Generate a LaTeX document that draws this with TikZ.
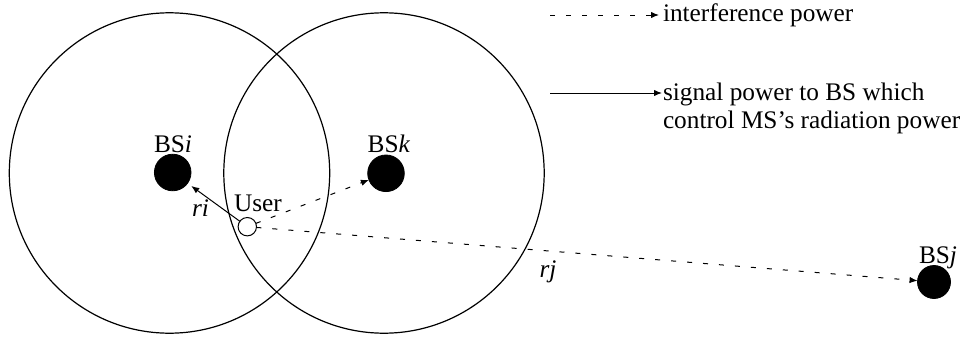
\documentclass[tikz,border=0pt]{standalone}
\usepackage{fontspec}
\setmainfont{Liberation Serif}
\usetikzlibrary{arrows.meta}
\begin{document}
\begin{tikzpicture}[x=0.5pt,y=-0.5pt,
  every node/.style={inner sep=0pt, outer sep=0pt, font=\fontsize{12.65}{15}\selectfont},
  cell/.style={draw, circle, line width=0.6pt, minimum size=160.2pt},
  bsdot/.style={draw, fill=black, circle, minimum size=18.3pt},
  userdot/.style={draw, fill=white, circle, line width=0.5pt, minimum size=9.2pt},
  sig/.style={line width=0.5pt, -{Latex[length=4pt,width=3.2pt]}},
  intf/.style={line width=0.5pt, dash pattern=on 2.5pt off 5.5pt, -{Latex[length=4pt,width=3.2pt]}},
  lbl/.style={anchor=base}
]
\useasboundingbox (0,0) rectangle (966,337);
% cells
\node[cell] (celli) at (169.5,173) {};
\node[cell] (cellk) at (384,173) {};
% base stations
\node[bsdot] (bsi) at (172.7,172.5) {};
\node[bsdot] (bsk) at (386,173.3) {};
\node[bsdot, minimum size=16.5pt] (bsj) at (934,282) {};
\node[userdot] (user) at (247.3,226.7) {};
% labels
\node[lbl] (lbsi) at (173,152) {BS\textit{i}};
\node[lbl] (lbsk) at (389,152) {BS\textit{k}};
\node[lbl] (lbsj) at (938,263) {BS\textit{j}};
\node[lbl] (luser) at (258,211) {User};
\node[lbl] (lri) at (200.5,216) {\textit{ri}};
\node[lbl] (lrj) at (548,277) {\textit{rj}};
% connectors
\draw[sig, shorten >=2.3pt] (user) -- (bsi);
\draw[intf] (user) -- (bsk);
\draw[intf] (user) -- (bsj);
% legend
\coordinate (l1s) at (550,15);
\coordinate (l1e) at (659,15);
\coordinate (l2s) at (550,93);
\coordinate (l2e) at (662,93);
\draw[intf] (l1s) -- (l1e);
\draw[sig] (l2s) -- (l2e);
\node[anchor=base west] (t1) at (663,22) {interference power};
\node[anchor=base west] (t2) at (663,100) {signal power to BS which};
\node[anchor=base west] (t3) at (663,128) {control MS’s radiation power};
\end{tikzpicture}
\end{document}
